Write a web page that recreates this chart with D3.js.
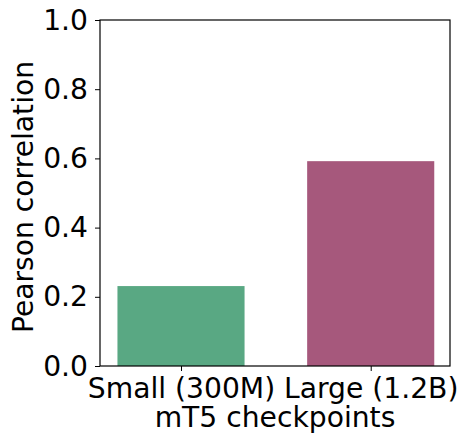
<!DOCTYPE html>
<html><head><meta charset="utf-8">
<script src="https://cdn.jsdelivr.net/npm/d3@7"></script>
<style>body{margin:0;background:#fff}svg{display:block}</style>
</head><body>
<script>
const categories = ["Small (300M)", "Large (1.2B)"];
const values = [0.231, 0.592];
const colors = ["#59a883", "#a6587c"];
const yTicks = [0.0, 0.2, 0.4, 0.6, 0.8, 1.0];

const W = 458, H = 436;
const m = {left: 100, right: 8, top: 20, bottom: 70};
const svg = d3.select("body").append("svg").attr("width", W).attr("height", H);
const iw = W - m.left - m.right, ih = H - m.top - m.bottom;
const g = svg.append("g").attr("transform", `translate(${m.left},${m.top})`);

const x = d3.scaleLinear().domain([-0.427, 1.418]).range([0, iw]);
const y = d3.scaleLinear().domain([0, 1]).range([ih, 0]);
const bw = 0.67;

g.selectAll("rect.bar").data(values).join("rect")
  .attr("x", (d, i) => x(i - bw / 2))
  .attr("width", (d, i) => x(i + bw / 2) - x(i - bw / 2))
  .attr("y", d => y(d))
  .attr("height", d => ih - y(d))
  .attr("fill", (d, i) => colors[i]);

const font = "DejaVu Sans, sans-serif";
const fs = 28.2;
const yAxis = g.append("g").call(d3.axisLeft(y).tickValues(yTicks).tickFormat(d3.format(".1f")).tickSize(5).tickPadding(7));
const xAxis = g.append("g").attr("transform", `translate(0,${ih})`)
  .call(d3.axisBottom(x).tickValues([0, 1]).tickFormat(i => categories[i]).tickSize(5).tickPadding(7));
[yAxis, xAxis].forEach(a => {
  a.selectAll("text").attr("font-family", font).attr("font-size", fs).attr("fill", "#000");
  a.selectAll("line").attr("stroke", "#000").attr("stroke-width", 1);
  a.select(".domain").remove();
});
g.append("rect").attr("width", iw).attr("height", ih).attr("fill", "none").attr("stroke", "#000").attr("stroke-width", 1.2);

svg.append("text").attr("x", m.left + iw / 2 - 0).attr("y", 427)
  .attr("text-anchor", "middle").attr("font-family", font).attr("font-size", fs).text("mT5 checkpoints");
svg.append("text").attr("transform", `translate(33,${m.top + ih / 2 + 4}) rotate(-90)`)
  .attr("text-anchor", "middle").attr("font-family", font).attr("font-size", fs).text("Pearson correlation");
</script>
</body></html>
